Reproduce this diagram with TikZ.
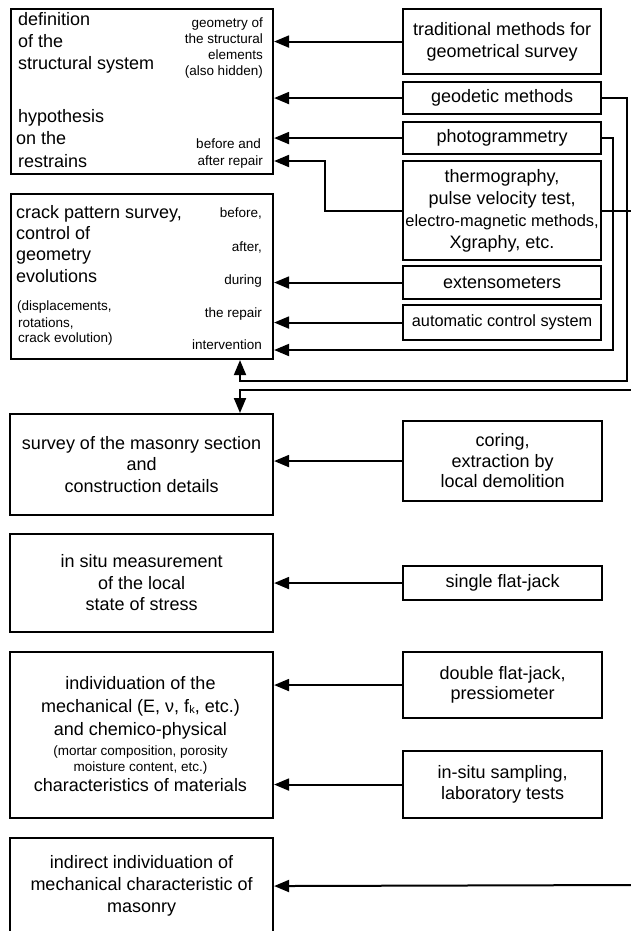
\documentclass[tikz,border=0pt]{standalone}
\usepackage{fontspec}
\setmainfont{Liberation Sans}
\usetikzlibrary{arrows.meta}
\begin{document}
\begin{tikzpicture}[x=1pt,y=-1pt,
  box/.style={draw, line width=2.1pt, inner sep=0pt, anchor=north west, align=center, font=\fontsize{18}{21.5}\selectfont},
  bt/.style={font=\fontsize{18}{21.5}\selectfont, inner sep=0pt, text height=12pt, text depth=0pt},
  st/.style={font=\fontsize{13.5}{16}\selectfont, inner sep=0pt, text height=9pt, text depth=0pt},
  con/.style={line width=2pt},
  arr/.style={line width=2pt, -{Triangle[length=15pt,width=12pt]}}]
\useasboundingbox (0,0) rectangle (630,931);
% helper coordinates
\coordinate (y161) at (0,161);
\coordinate (y350) at (0,350);
\coordinate (x240) at (240,0);
% left boxes
\node[box, minimum width=262pt, minimum height=165pt] (A) at (10,8) {};
\node[box, minimum width=262pt, minimum height=165pt] (B) at (10,193) {};
\node[box, minimum width=263pt, minimum height=101pt] (C) at (9,413) {survey of the masonry section\\and\\construction details};
\node[box, minimum width=263pt, minimum height=98pt] (D) at (9,533) {in situ measurement\\of the local\\state of stress};
\node[box, minimum width=263pt, minimum height=166pt] (E) at (9,651) {};
\node[box, minimum width=263pt, minimum height=96pt, font=\fontsize{18}{22}\selectfont] (F) at (9,837) {indirect individuation of\\mechanical characteristic of\\masonry};
% texts in A
\node[bt, anchor=west] (a1) at (18,20) {definition};
\node[bt, anchor=west] (a2) at (18,42) {of the};
\node[bt, anchor=west] (a3) at (18,64) {structural system};
\node[bt, anchor=west] (a4) at (18,117) {hypothesis};
\node[bt, anchor=west] (a5) at (16,139) {on the};
\node[bt, anchor=west] (a6) at (18,161) {restrains};
\node[st, anchor=east] (a7) at (263,23) {geometry of};
\node[st, anchor=east] (a8) at (263,39) {the structural};
\node[st, anchor=east] (a9) at (263,55) {elements};
\node[st, anchor=east] (a10) at (263,71) {(also hidden)};
\node[st, anchor=east] (a11) at (261,144) {before and};
\node[st, anchor=east] (a12) at (263,161) {after repair};
% texts in B
\node[bt, anchor=west] (b1) at (16,212) {crack pattern survey,};
\node[bt, anchor=west] (b2) at (16,233) {control of};
\node[bt, anchor=west] (b3) at (16,254) {geometry};
\node[bt, anchor=west] (b4) at (16,276) {evolutions};
\node[st, anchor=west] (b5) at (17,306) {(displacements,};
\node[st, anchor=west] (b6) at (18,323) {rotations,};
\node[st, anchor=west] (b7) at (18,338) {crack evolution)};
\node[st, anchor=east] (b8) at (262,213) {before,};
\node[st, anchor=east] (b9) at (262,247) {after,};
\node[st, anchor=east] (b10) at (262,280) {during};
\node[st, anchor=east] (b11) at (262,313) {the repair};
\node[st, anchor=east] (b12) at (262,345) {intervention};
% texts in E
\node[bt] (e1) at (140.5,683) {individuation of the};
\node[bt] (e2) at (140.5,706) {mechanical (E, ν, f\raisebox{-1pt}{\fontsize{11}{11}\selectfont k}, etc.)};
\node[bt] (e3) at (140.5,729) {and chemico-physical};
\node[st] (e4) at (140.5,751) {(mortar composition, porosity};
\node[st] (e5) at (140.5,767) {moisture content, etc.)};
\node[bt] (e6) at (140.5,785) {characteristics of materials};
% right boxes
\node[box, minimum width=198pt, minimum height=65pt, font=\fontsize{18}{22}\selectfont] (trad) at (402,8) {traditional methods for\\geometrical survey};
\node[box, minimum width=198pt, minimum height=32pt] (geo) at (402,81) {geodetic methods};
\node[box, minimum width=198pt, minimum height=32pt] (photo) at (402,121) {photogrammetry};
\node[box, minimum width=198pt, minimum height=99pt, font=\fontsize{18}{22}\selectfont] (thermo) at (402,160) {thermography,\\pulse velocity test,\\{\fontsize{16.4}{22}\selectfont electro-magnetic methods,}\\Xgraphy, etc.};
\node[box, minimum width=198pt, minimum height=33pt] (ext) at (402,265) {extensometers};
\node[box, minimum width=198pt, minimum height=35pt, font=\fontsize{16.3}{20}\selectfont] (auto) at (402,304) {automatic control system};
\node[box, minimum width=199pt, minimum height=80pt, font=\fontsize{18}{20.5}\selectfont] (coring) at (402,420) {coring,\\extraction by\\local demolition};
\node[box, minimum width=199pt, minimum height=34pt] (single) at (402,565) {single flat-jack};
\node[box, minimum width=199pt, minimum height=66pt, font=\fontsize{18}{20.5}\selectfont] (double) at (402,651) {double flat-jack,\\pressiometer};
\node[box, minimum width=199pt, minimum height=67pt, font=\fontsize{18}{21}\selectfont] (sampling) at (402,750) {in-situ sampling,\\laboratory tests};
% free ends at the right border
\coordinate (eT) at (636,0);
\coordinate (eC) at (636,390);
\coordinate (eF) at (636,885);
% connectors
\draw[arr] (trad.west) -- (trad.west -| A.east);
\draw[arr] (geo.west) -- (geo.west -| A.east);
\draw[arr] (photo.west) -- (photo.west -| A.east);
\draw[arr] (thermo.west) -| (325,161) -- (A.east |- y161);
\draw[arr] (ext.west) -- (ext.west -| B.east);
\draw[arr] (auto.west) -- (auto.west -| B.east);
\draw[arr] (photo.east) -| (613,350) -- (B.east |- y350);
\draw[arr] (geo.east) -| (627,381) -- (240,381) -- (B.south -| x240);
\draw[con] (thermo.east) -- (thermo.east -| eT);
\draw[arr] (eC) -- (240,390) -- (C.north -| x240);
\draw[arr] (coring.west) -- (coring.west -| C.east);
\draw[arr] (single.west) -- (single.west -| D.east);
\draw[arr] (double.west) -- (double.west -| E.east);
\draw[arr] (sampling.west) -- (sampling.west -| E.east);
\draw[arr] (eF) -- (F.east);
\end{tikzpicture}
\end{document}
